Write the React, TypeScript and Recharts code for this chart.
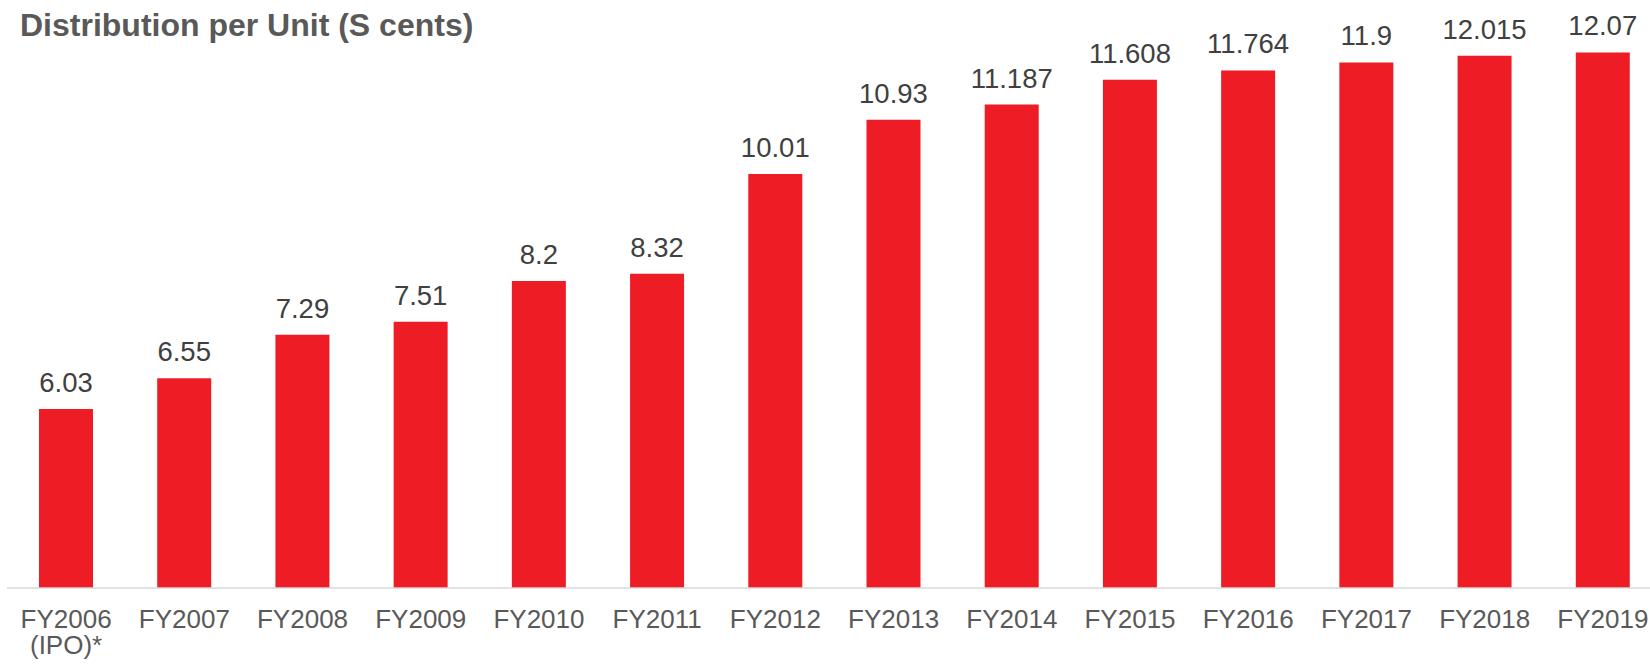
import { Bar, BarChart, LabelList, XAxis, YAxis } from "recharts";

const years = [
  "FY2006",
  "FY2007",
  "FY2008",
  "FY2009",
  "FY2010",
  "FY2011",
  "FY2012",
  "FY2013",
  "FY2014",
  "FY2015",
  "FY2016",
  "FY2017",
  "FY2018",
  "FY2019",
];
// second line under a year label, empty where there is none
const yearNotes = ["(IPO)*", "", "", "", "", "", "", "", "", "", "", "", "", ""];
const dpu = [6.03, 6.55, 7.29, 7.51, 8.2, 8.32, 10.01, 10.93, 11.187, 11.608, 11.764, 11.9, 12.015, 12.07];

const data = years.map((year, i) => ({ year, note: yearNotes[i], dpu: dpu[i] }));

const RED = "#ee1d25";
const LABEL_INK = "#404040";
const TICK_INK = "#595959";
const FONT = "'Liberation Sans', Arial, sans-serif";

function YearTick(props: any) {
  const { x, y, index } = props;
  const note = yearNotes[index];
  return (
    <text x={x} y={y} textAnchor="middle" fill={TICK_INK} fontSize={26} fontFamily={FONT}>
      <tspan x={x} dy={32}>
        {props.payload.value}
      </tspan>
      {note && (
        <tspan x={x} dy={26}>
          {note}
        </tspan>
      )}
    </text>
  );
}

export default function App() {
  return (
    <div
      style={{
        position: "fixed",
        left: 0,
        top: 0,
        width: 1650,
        height: 665,
        overflow: "hidden",
        background: "#fff",
      }}
    >
      <div
        style={{
          position: "absolute",
          left: 20,
          top: 9,
          fontFamily: FONT,
          fontWeight: 700,
          fontSize: 32,
          lineHeight: "32px",
          color: TICK_INK,
          whiteSpace: "nowrap",
        }}
      >
        Distribution per Unit (S cents)
      </div>
      <BarChart
        width={1662}
        height={665}
        data={data}
        margin={{ top: 27, right: 0, bottom: 0, left: 7 }}
        barCategoryGap="27%"
      >
        <YAxis hide domain={[3, 12.5]} allowDataOverflow />
        <XAxis
          dataKey="year"
          axisLine={{ stroke: "#d9d9d9", strokeWidth: 1.5 }}
          tickLine={false}
          interval={0}
          tick={<YearTick />}
          height={77}
        />
        <Bar dataKey="dpu" fill={RED} barSize={54} isAnimationActive={false}>
          <LabelList
            dataKey="dpu"
            position="top"
            offset={17}
            fill={LABEL_INK}
            fontSize={27.5}
            fontFamily={FONT}
          />
        </Bar>
      </BarChart>
    </div>
  );
}
